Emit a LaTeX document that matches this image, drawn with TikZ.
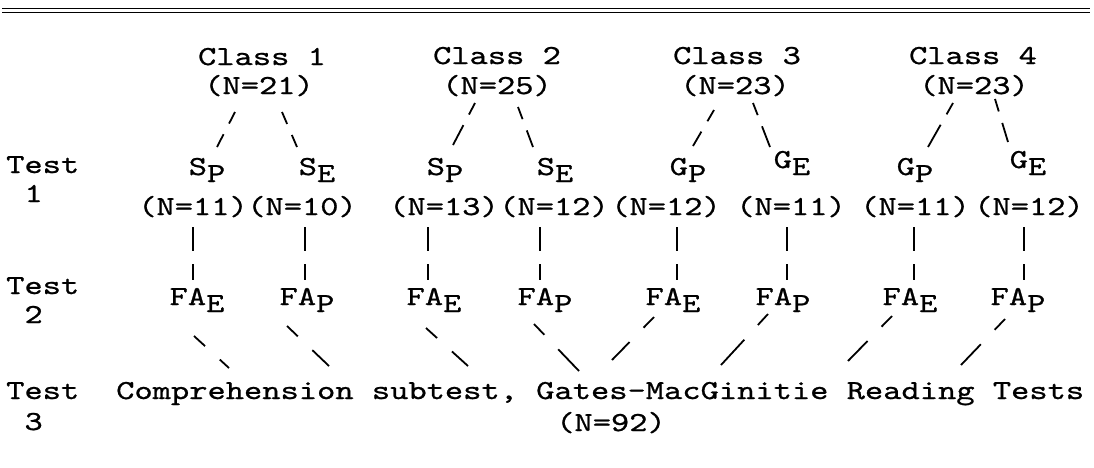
\documentclass[tikz,border=0pt]{standalone}
\usepackage{fontspec}
\newfontfamily\tw{lmmono10-regular.otf}[FakeStretch=1.265,FakeBold=0.8]
\newcommand\lowr[1]{\raisebox{-7pt}{#1}}
\begin{document}
\begin{tikzpicture}[x=1pt,y=-1pt,
  lbl/.style={inner sep=0pt, anchor=base, font=\tw\fontsize{27.5}{30}\selectfont},
  lblw/.style={lbl, anchor=base west},
  rule/.style={line width=1.6pt},
  dl/.style={line width=1.8pt, dash pattern=on 13pt off 12pt on 40pt off 1pt},
  vl/.style={line width=1.8pt, dash pattern=on 24pt off 13pt on 40pt off 1pt},
  bl/.style={line width=1.8pt, dash pattern=on 15pt off 20pt on 40pt off 1pt}]
\useasboundingbox (0,0) rectangle (1094,467);
% top double rule
\draw[rule] (2,8.5) -- (1090,8.5);
\draw[rule] (2,12.5) -- (1090,12.5);
% classes
\node[lbl] (cl1) at (262,65) {Class 1};
\node[lbl] (cn1) at (259,94) {(N=21)};
\node[lbl] (cl2) at (497,64) {Class 2};
\node[lbl] (cn2) at (497,94) {(N=25)};
\node[lbl] (cl3) at (737,64) {Class 3};
\node[lbl] (cn3) at (735,94) {(N=23)};
\node[lbl] (cl4) at (973,64) {Class 4};
\node[lbl] (cn4) at (974,94) {(N=23)};
% test labels
\node[lblw] (ta1) at (6,173) {Test};
\node[lblw] (tb1) at (24.3,202) {1};
\node[lblw] (ta2) at (6,294) {Test};
\node[lblw] (tb2) at (24.3,323) {2};
\node[lblw] (ta3) at (6,399) {Test};
\node[lblw] (tb3) at (24.3,430) {3};
% test 1 groups
\node[lbl] (sp1) at (207,175) {S\lowr{P}};
\node[lbl] (se1) at (317,175) {S\lowr{E}};
\node[lbl] (sp2) at (445,175) {S\lowr{P}};
\node[lbl] (se2) at (555,175) {S\lowr{E}};
\node[lbl] (gp3) at (688,175) {G\lowr{P}};
\node[lbl] (ge3) at (792,168) {G\lowr{E}};
\node[lbl] (gp4) at (915,175) {G\lowr{P}};
\node[lbl] (ge4) at (1028,168) {G\lowr{E}};
\node[lbl] (n11) at (193,215) {(N=11)};
\node[lbl] (n12) at (302,215) {(N=10)};
\node[lbl] (n21) at (444,215) {(N=13)};
\node[lbl] (n22) at (554,215) {(N=12)};
\node[lbl] (n31) at (666,215) {(N=12)};
\node[lbl] (n32) at (791,215) {(N=11)};
\node[lbl] (n41) at (915,215) {(N=11)};
\node[lbl] (n42) at (1029,215) {(N=12)};
% test 2
\node[lbl] (f11) at (197,305) {FA\lowr{E}};
\node[lbl] (f12) at (307,305) {FA\lowr{P}};
\node[lbl] (f21) at (434,305) {FA\lowr{E}};
\node[lbl] (f22) at (545,305) {FA\lowr{P}};
\node[lbl] (f31) at (673,305) {FA\lowr{E}};
\node[lbl] (f32) at (783,305) {FA\lowr{P}};
\node[lbl] (f41) at (910,305) {FA\lowr{E}};
\node[lbl] (f42) at (1018,305) {FA\lowr{P}};
% test 3
\node[lblw] (t3) at (116,399) {Comprehension subtest, Gates-MacGinitie Reading Tests};
\node[lbl] (n92) at (611,431) {(N=92)};
% class -> test 1
\draw[dl] ([shift={(-24,18)}]cn1.base) -- ([shift={(10,-28)}]sp1.base);
\draw[dl] ([shift={(23,18)}]cn1.base) -- ([shift={(-20,-28)}]se1.base);
\draw[dl] ([shift={(-22,9)}]cn2.base) -- ([shift={(8,-30)}]sp2.base);
\draw[dl] ([shift={(21,13)}]cn2.base) -- ([shift={(-22,-28)}]se2.base);
\draw[dl] ([shift={(-21,16)}]cn3.base) -- ([shift={(5,-29)}]gp3.base);
\draw[dl] ([shift={(18,9)}]cn3.base) -- ([shift={(-22,-21)}]ge3.base);
\draw[dl] ([shift={(-21,9)}]cn4.base) -- ([shift={(13,-28)}]gp4.base);
\draw[dl] ([shift={(21,5)}]cn4.base) -- ([shift={(-20,-26)}]ge4.base);
% test 1 -> test 2
\draw[vl] ([shift={(0,12)}]n11.base) -- ([shift={(-4,-25)}]f11.base);
\draw[vl] ([shift={(3,12)}]n12.base) -- ([shift={(-2,-25)}]f12.base);
\draw[vl] ([shift={(-16,12)}]n21.base) -- ([shift={(-6,-25)}]f21.base);
\draw[vl] ([shift={(-14,12)}]n22.base) -- ([shift={(-5,-25)}]f22.base);
\draw[vl] ([shift={(11,12)}]n31.base) -- ([shift={(4,-25)}]f31.base);
\draw[vl] ([shift={(-4,12)}]n32.base) -- ([shift={(4,-25)}]f32.base);
\draw[vl] ([shift={(-1,12)}]n41.base) -- ([shift={(4,-25)}]f41.base);
\draw[vl] ([shift={(-5,12)}]n42.base) -- ([shift={(6,-25)}]f42.base);
% test 2 -> test 3
\draw[bl] ([shift={(-3,31)}]f11.base) -- ([shift={(113,-31)}]t3.base west);
\draw[bl] ([shift={(-20,21)}]f12.base) -- ([shift={(213,-33)}]t3.base west);
\draw[bl] ([shift={(-8,23)}]f21.base) -- ([shift={(352,-33)}]t3.base west);
\draw[bl] ([shift={(-11,19)}]f22.base) -- ([shift={(463,-28)}]t3.base west);
\draw[bl] ([shift={(-19,12)}]f31.base) -- ([shift={(496,-39)}]t3.base west);
\draw[bl] ([shift={(-15,9)}]f32.base) -- ([shift={(605,-34)}]t3.base west);
\draw[bl] ([shift={(-18,11)}]f41.base) -- ([shift={(732,-38)}]t3.base west);
\draw[bl] ([shift={(-13,14)}]f42.base) -- ([shift={(845,-34)}]t3.base west);
\end{tikzpicture}
\end{document}
